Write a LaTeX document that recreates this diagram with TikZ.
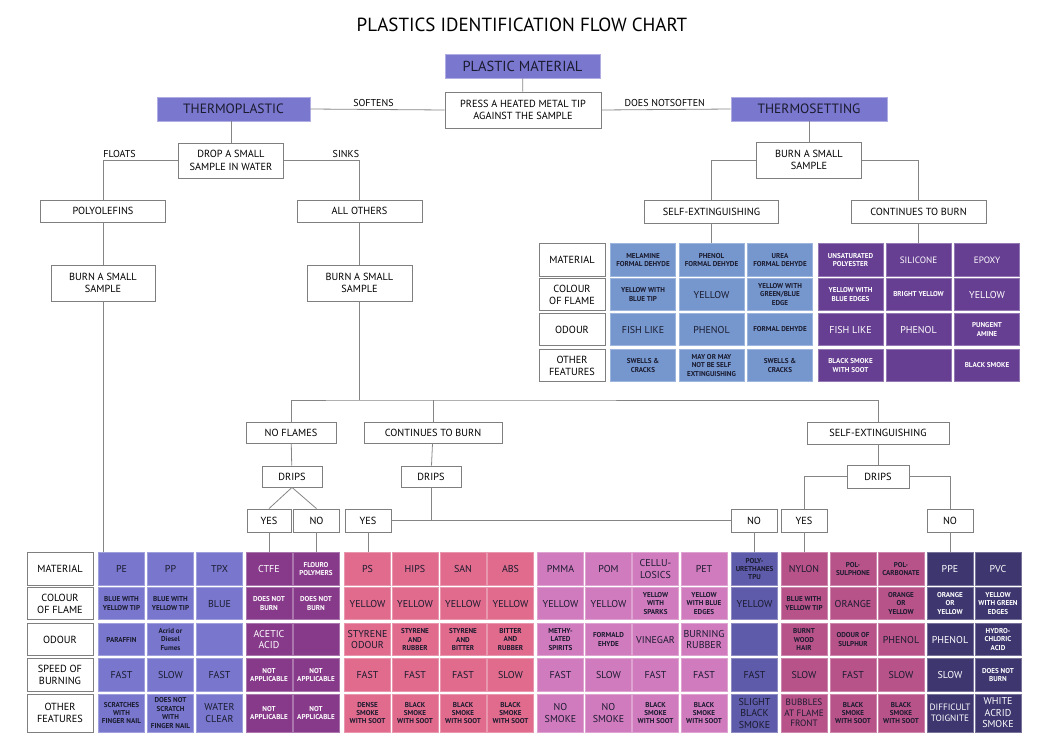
\documentclass[tikz,border=0pt]{standalone}
\usepackage{fontspec}
\setmainfont{PT Sans}
\usetikzlibrary{positioning}
\definecolor{headpurple}{HTML}{7A77CE}
\definecolor{tsblue}{HTML}{7597CE}
\definecolor{tspurple}{HTML}{663E92}
\definecolor{pecol}{HTML}{7877CD}
\definecolor{ctfecol}{HTML}{873A8A}
\definecolor{pscol}{HTML}{E06B8D}
\definecolor{pmmacol}{HTML}{D17BBF}
\definecolor{pucol}{HTML}{5E5BAA}
\definecolor{nycol}{HTML}{B85389}
\definecolor{ppecol}{HTML}{3D366F}
\definecolor{darktext}{HTML}{1B1B2F}
\definecolor{boxgray}{HTML}{7F7F7F}
\definecolor{linegray}{HTML}{858585}
\tikzset{conn/.style={draw=linegray, line width=0.8pt},
         flowbox/.style={draw=boxgray, fill=white, line width=0.8pt, align=center, inner sep=1pt, font=\fontsize{10.3}{12.5}\selectfont},
         headbox/.style={fill=headpurple, draw=headpurple!60!white, line width=0.8pt, text=darktext, font=\fontsize{13.5}{15}\selectfont},
         lbl/.style={above, inner sep=2pt, font=\fontsize{10}{11}\selectfont}}
\tikzset{rowhead/.style={draw=boxgray, fill=white, line width=0.8pt, align=center, minimum width=66pt, minimum height=32.5pt, inner sep=0pt, font=\fontsize{10.3}{12}\selectfont},
         cell/.style={fill=#1, draw=#1!70!white, line width=0.6pt, align=center, minimum width=46pt, minimum height=32.5pt, inner sep=0pt, text=darktext, font=\fontsize{10}{11.5}\selectfont},
         tcell/.style={cell=#1, minimum width=65pt},
         sml/.style={font=\bfseries\fontsize{7.1}{8.4}\selectfont},
         midf/.style={font=\fontsize{9.2}{10.5}\selectfont},
         wt/.style={text=white},
         tall/.style={minimum height=38pt}}

\begin{document}
\begin{tikzpicture}[x=1pt,y=-1pt]
   \useasboundingbox (0,0) rectangle (1048,752);
   \node (title) at (522,25) {\fontsize{19}{21}\selectfont PLASTICS IDENTIFICATION FLOW CHART};

   \node[headbox,minimum width=155pt,minimum height=24pt,font=\fontsize{14.5}{16}\selectfont] (pmat) at (522.5,66) {PLASTIC MATERIAL};
   \node[flowbox,minimum width=156pt,minimum height=36pt] (press)  at (523,110)   {PRESS A HEATED METAL TIP\\AGAINST THE SAMPLE};
   \node[headbox,minimum width=153pt,minimum height=24pt] (tplast) at (233.5,109) {THERMOPLASTIC};
   \node[headbox,minimum width=156pt,minimum height=24pt] (tset)   at (809,109)   {THERMOSETTING};
   \draw[conn] (pmat) -- (press);
   \draw[conn] (tplast.east) -- node[lbl,pos=0.47] {SOFTENS} (press.west);
   \draw[conn] (press.east) -- node[lbl,pos=0.49] {DOES NOTSOFTEN} (tset.west);

   % thermoplastic side
   \node[flowbox,minimum width=105pt,minimum height=35pt] (drop)   at (231,160.5) {DROP A SMALL\\SAMPLE IN WATER};
   \node[flowbox,minimum width=125pt,minimum height=22pt] (poly)   at (103,211)   {POLYOLEFINS};
   \node[flowbox,minimum width=125pt,minimum height=22pt] (others) at (359.5,211) {ALL OTHERS};
   \node[flowbox,minimum width=104pt,minimum height=36pt] (burnL)  at (103,283)   {BURN A SMALL\\SAMPLE};
   \node[flowbox,minimum width=105pt,minimum height=36pt] (burnM)  at (359.5,283) {BURN A SMALL\\SAMPLE};
   \draw[conn] (tplast.south -| drop.north) -- (drop.north);
   \draw[conn] (drop.west) -| node[lbl,pos=0.39] {FLOATS} (poly.north);
   \draw[conn] (drop.east) -| node[lbl,pos=0.41] {SINKS} (others.north);
   \draw[conn] (poly) -- (burnL);
   \draw[conn] (others) -- (burnM);

   % thermosetting side
   \node[flowbox,minimum width=105pt,minimum height=36pt] (burnT) at (809,160)   {BURN A SMALL\\SAMPLE};
   \node[flowbox,minimum width=134pt,minimum height=23pt] (selfT) at (711.5,211.5) {SELF-EXTINGUISHING};
   \node[flowbox,minimum width=135pt,minimum height=23pt] (contT) at (918.5,211.5) {CONTINUES TO BURN};
   \draw[conn] (tset) -- (burnT);
   \draw[conn] (burnT.west) -| (selfT.north);
   \draw[conn] (burnT.east) -| (contT.north);

   \node[rowhead] (th1) at (572,260)   {MATERIAL};
   \node[rowhead] (th2) at (572,294.5) {COLOUR\\OF FLAME};
   \node[rowhead] (th3) at (572,329.5) {ODOUR};
   \node[rowhead] (th4) at (572,365.5) {OTHER\\FEATURES};

   \node[tcell=tsblue,sml]      (mf1) at (643,260)   {MELAMINE\\FORMAL DEHYDE};
   \node[tcell=tsblue,sml]      (mf2) at (643,294.5) {YELLOW WITH\\BLUE TIP};
   \node[tcell=tsblue]          (mf3) at (643,329.5) {FISH LIKE};
   \node[tcell=tsblue,sml]      (mf4) at (643,365.5) {SWELLS \&\\CRACKS};
   \node[tcell=tsblue,sml]      (pf1) at (711.5,260)   {PHENOL\\FORMAL DEHYDE};
   \node[tcell=tsblue]          (pf2) at (711.5,294.5) {YELLOW};
   \node[tcell=tsblue]          (pf3) at (711.5,329.5) {PHENOL};
   \node[tcell=tsblue,sml]      (pf4) at (711.5,365.5) {MAY OR MAY\\NOT BE SELF\\EXTINGUISHING};
   \node[tcell=tsblue,sml]      (uf1) at (780,260)   {UREA\\FORMAL DEHYDE};
   \node[tcell=tsblue,sml]      (uf2) at (780,294.5) {YELLOW WITH\\GREEN/BLUE\\EDGE};
   \node[tcell=tsblue,sml]      (uf3) at (780,329.5) {FORMAL DEHYDE};
   \node[tcell=tsblue,sml]      (uf4) at (780,365.5) {SWELLS \&\\CRACKS};
   \node[tcell=tspurple,sml,wt] (up1) at (850.5,260)   {UNSATURATED\\POLYESTER};
   \node[tcell=tspurple,sml,wt] (up2) at (850.5,294.5) {YELLOW WITH\\BLUE EDGES};
   \node[tcell=tspurple,wt]     (up3) at (850.5,329.5) {FISH LIKE};
   \node[tcell=tspurple,sml,wt] (up4) at (850.5,365.5) {BLACK SMOKE\\WITH SOOT};
   \node[tcell=tspurple,midf,wt] (si1) at (918.5,260)   {SILICONE};
   \node[tcell=tspurple,sml,wt] (si2) at (918.5,294.5) {BRIGHT YELLOW};
   \node[tcell=tspurple,wt]     (si3) at (918.5,329.5) {PHENOL};
   \node[tcell=tspurple]        (si4) at (918.5,365.5) {};
   \node[tcell=tspurple,midf,wt] (ep1) at (987,260)   {EPOXY};
   \node[tcell=tspurple,wt]     (ep2) at (987,294.5) {YELLOW};
   \node[tcell=tspurple,sml,wt] (ep3) at (987,329.5) {PUNGENT\\AMINE};
   \node[tcell=tspurple,sml,wt] (ep4) at (987,365.5) {BLACK SMOKE};
   \draw[conn] (selfT.south) -- (selfT.south |- pf1.north);
   \draw[conn] (contT.south) -- (contT.south |- si1.north);

   % burning tests for the other thermoplastics
   \coordinate (split) at (359.5,400);
   \node[flowbox,minimum width=90pt,minimum height=21pt]  (nofl)   at (291,432.5) {NO FLAMES};
   \node[flowbox,minimum width=138pt,minimum height=21pt] (contM)  at (433,432.5) {CONTINUES TO BURN};
   \node[flowbox,minimum width=142pt,minimum height=22pt] (selfM)  at (878,433)   {SELF-EXTINGUISHING};
   \node[flowbox,minimum width=60pt,minimum height=21pt]  (drips1) at (292,476.5) {DRIPS};
   \node[flowbox,minimum width=60pt,minimum height=21pt]  (drips2) at (431,476.5) {DRIPS};
   \node[flowbox,minimum width=62pt,minimum height=23pt]  (drips3) at (878,476.5) {DRIPS};
   \node[flowbox,minimum width=44pt,minimum height=23pt]  (yes1)   at (269,520.5) {YES};
   \node[flowbox,minimum width=46pt,minimum height=23pt]  (no1)    at (316.5,520.5) {NO};
   \node[flowbox,minimum width=46pt,minimum height=23pt]  (yes2)   at (368,520.5) {YES};
   \node[flowbox,minimum width=46pt,minimum height=23pt]  (no2)    at (754,520.5) {NO};
   \node[flowbox,minimum width=46pt,minimum height=23pt]  (yes3)   at (804,520.5) {YES};
   \node[flowbox,minimum width=46pt,minimum height=23pt]  (no3)    at (950,520.5) {NO};
   \draw[conn] (burnM.south) -- (split);
   \draw[conn] (nofl.north) |- (split) -| (selfM.north);
   \draw[conn] (contM.north) -- (contM.north |- split);
   \draw[conn] (nofl) -- (drips1);
   \draw[conn] (drips1.south) -- (yes1.north);
   \draw[conn] (drips1.south) -- (no1.north);
   \draw[conn] (contM) -- (drips2);
   \draw[conn] (drips2.south) -- (drips2.south |- yes2.east);
   \draw[conn] (yes2) -- (no2);
   \draw[conn] (selfM) -- (drips3);
   \draw[conn] (drips3.west) -| (yes3.north);
   \draw[conn] (drips3.east) -| (no3.north);

   % thermoplastic table
   \node[rowhead]      (h1) at (60,569)   {MATERIAL};
   \node[rowhead]      (h2) at (60,603.5) {COLOUR\\OF FLAME};
   \node[rowhead]      (h3) at (60,639.5) {ODOUR};
   \node[rowhead]      (h4) at (60,675)   {SPEED OF\\BURNING};
   \node[rowhead,tall] (h5) at (60,713)   {OTHER\\FEATURES};

   \node[cell=pecol]          (pe1) at (121.5,569)   {PE};
   \node[cell=pecol,sml]      (pe2) at (121.5,603.5) {BLUE WITH\\YELLOW TIP};
   \node[cell=pecol,sml]      (pe3) at (121.5,639.5) {PARAFFIN};
   \node[cell=pecol]          (pe4) at (121.5,675)   {FAST};
   \node[cell=pecol,sml,tall] (pe5) at (121.5,713)   {SCRATCHES\\WITH\\FINGER NAIL};
   \node[cell=pecol]          (pp1) at (170.5,569)   {PP};
   \node[cell=pecol,sml]      (pp2) at (170.5,603.5) {BLUE WITH\\YELLOW TIP};
   \node[cell=pecol,sml]      (pp3) at (170.5,639.5) {Acrid or\\Diesel\\Fumes};
   \node[cell=pecol]          (pp4) at (170.5,675)   {SLOW};
   \node[cell=pecol,sml,tall] (pp5) at (170.5,713)   {DOES NOT\\SCRATCH\\WITH\\FINGER NAIL};
   \node[cell=pecol]          (tpx1) at (219.5,569)   {TPX};
   \node[cell=pecol]          (tpx2) at (219.5,603.5) {BLUE};
   \node[cell=pecol]          (tpx3) at (219.5,639.5) {};
   \node[cell=pecol]          (tpx4) at (219.5,675)   {FAST};
   \node[cell=pecol,tall]     (tpx5) at (219.5,713)   {WATER\\CLEAR};

   \node[cell=ctfecol,wt]          (ctfe1) at (269,569)   {CTFE};
   \node[cell=ctfecol,sml,wt]      (ctfe2) at (269,603.5) {DOES NOT\\BURN};
   \node[cell=ctfecol,wt]          (ctfe3) at (269,639.5) {ACETIC\\ACID};
   \node[cell=ctfecol,sml,wt]      (ctfe4) at (269,675)   {NOT\\APPLICABLE};
   \node[cell=ctfecol,sml,wt,tall] (ctfe5) at (269,713)   {NOT\\APPLICABLE};
   \node[cell=ctfecol,sml,wt]      (fp1) at (316,569)   {FLOURO\\POLYMERS};
   \node[cell=ctfecol,sml,wt]      (fp2) at (316,603.5) {DOES NOT\\BURN};
   \node[cell=ctfecol]             (fp3) at (316,639.5) {};
   \node[cell=ctfecol,sml,wt]      (fp4) at (316,675)   {NOT\\APPLICABLE};
   \node[cell=ctfecol,sml,wt,tall] (fp5) at (316,713)   {NOT\\APPLICABLE};

   \node[cell=pscol]          (ps1) at (367.5,569)   {PS};
   \node[cell=pscol]          (ps2) at (367.5,603.5) {YELLOW};
   \node[cell=pscol]          (ps3) at (367.5,639.5) {STYRENE\\ODOUR};
   \node[cell=pscol]          (ps4) at (367.5,675)   {FAST};
   \node[cell=pscol,sml,tall] (ps5) at (367.5,713)   {DENSE\\SMOKE\\WITH SOOT};
   \node[cell=pscol]          (hips1) at (415,569)   {HIPS};
   \node[cell=pscol]          (hips2) at (415,603.5) {YELLOW};
   \node[cell=pscol,sml]      (hips3) at (415,639.5) {STYRENE\\AND\\RUBBER};
   \node[cell=pscol]          (hips4) at (415,675)   {FAST};
   \node[cell=pscol,sml,tall] (hips5) at (415,713)   {BLACK\\SMOKE\\WITH SOOT};
   \node[cell=pscol]          (san1) at (463,569)   {SAN};
   \node[cell=pscol]          (san2) at (463,603.5) {YELLOW};
   \node[cell=pscol,sml]      (san3) at (463,639.5) {STYRENE\\AND\\BITTER};
   \node[cell=pscol]          (san4) at (463,675)   {FAST};
   \node[cell=pscol,sml,tall] (san5) at (463,713)   {BLACK\\SMOKE\\WITH SOOT};
   \node[cell=pscol]          (abs1) at (510.5,569)   {ABS};
   \node[cell=pscol]          (abs2) at (510.5,603.5) {YELLOW};
   \node[cell=pscol,sml]      (abs3) at (510.5,639.5) {BITTER\\AND\\RUBBER};
   \node[cell=pscol]          (abs4) at (510.5,675)   {SLOW};
   \node[cell=pscol,sml,tall] (abs5) at (510.5,713)   {BLACK\\SMOKE\\WITH SOOT};

   \node[cell=pmmacol]          (pmma1) at (560.5,569)   {PMMA};
   \node[cell=pmmacol]          (pmma2) at (560.5,603.5) {YELLOW};
   \node[cell=pmmacol,sml]      (pmma3) at (560.5,639.5) {METHY-\\LATED\\SPIRITS};
   \node[cell=pmmacol]          (pmma4) at (560.5,675)   {FAST};
   \node[cell=pmmacol,tall]     (pmma5) at (560.5,713)   {NO\\SMOKE};
   \node[cell=pmmacol]          (pom1) at (608.5,569)   {POM};
   \node[cell=pmmacol]          (pom2) at (608.5,603.5) {YELLOW};
   \node[cell=pmmacol,sml]      (pom3) at (608.5,639.5) {FORMALD\\EHYDE};
   \node[cell=pmmacol]          (pom4) at (608.5,675)   {SLOW};
   \node[cell=pmmacol,tall]     (pom5) at (608.5,713)   {NO\\SMOKE};
   \node[cell=pmmacol]          (cel1) at (655.5,569)   {CELLU-\\LOSICS};
   \node[cell=pmmacol,sml]      (cel2) at (655.5,603.5) {YELLOW\\WITH\\SPARKS};
   \node[cell=pmmacol]          (cel3) at (655.5,639.5) {VINEGAR};
   \node[cell=pmmacol]          (cel4) at (655.5,675)   {FAST};
   \node[cell=pmmacol,sml,tall] (cel5) at (655.5,713)   {BLACK\\SMOKE\\WITH SOOT};
   \node[cell=pmmacol]          (pet1) at (704,569)   {PET};
   \node[cell=pmmacol,sml]      (pet2) at (704,603.5) {YELLOW\\WITH BLUE\\EDGES};
   \node[cell=pmmacol]          (pet3) at (704,639.5) {BURNING\\RUBBER};
   \node[cell=pmmacol]          (pet4) at (704,675)   {FAST};
   \node[cell=pmmacol,sml,tall] (pet5) at (704,713)   {BLACK\\SMOKE\\WITH SOOT};

   \node[cell=pucol,sml]  (pu1) at (754.5,569)   {POLY-\\URETHANES\\TPU};
   \node[cell=pucol]      (pu2) at (754.5,603.5) {YELLOW};
   \node[cell=pucol]      (pu3) at (754.5,639.5) {};
   \node[cell=pucol]      (pu4) at (754.5,675)   {FAST};
   \node[cell=pucol,tall] (pu5) at (754.5,713)   {SLIGHT\\BLACK\\SMOKE};

   \node[cell=nycol]          (ny1) at (804,569)   {NYLON};
   \node[cell=nycol,sml]      (ny2) at (804,603.5) {BLUE WITH\\YELLOW TIP};
   \node[cell=nycol,sml]      (ny3) at (804,639.5) {BURNT\\WOOD\\HAIR};
   \node[cell=nycol]          (ny4) at (804,675)   {SLOW};
   \node[cell=nycol,midf,tall] (ny5) at (804,713)  {BUBBLES\\AT FLAME\\FRONT};
   \node[cell=nycol,sml]      (psu1) at (853,569)   {POL-\\SULPHONE};
   \node[cell=nycol]          (psu2) at (853,603.5) {ORANGE};
   \node[cell=nycol,sml]      (psu3) at (853,639.5) {ODOUR OF\\SULPHUR};
   \node[cell=nycol]          (psu4) at (853,675)   {FAST};
   \node[cell=nycol,sml,tall] (psu5) at (853,713)   {BLACK\\SMOKE\\WITH SOOT};
   \node[cell=nycol,sml]      (pc1) at (901,569)   {POL-\\CARBONATE};
   \node[cell=nycol,sml]      (pc2) at (901,603.5) {ORANGE\\OR\\YELLOW};
   \node[cell=nycol]          (pc3) at (901,639.5) {PHENOL};
   \node[cell=nycol]          (pc4) at (901,675)   {SLOW};
   \node[cell=nycol,sml,tall] (pc5) at (901,713)   {BLACK\\SMOKE\\WITH SOOT};

   \node[cell=ppecol,wt]           (ppe1) at (950,569)   {PPE};
   \node[cell=ppecol,sml,wt]       (ppe2) at (950,603.5) {ORANGE\\OR\\YELLOW};
   \node[cell=ppecol,wt]           (ppe3) at (950,639.5) {PHENOL};
   \node[cell=ppecol,wt]           (ppe4) at (950,675)   {SLOW};
   \node[cell=ppecol,midf,wt,tall] (ppe5) at (950,713)   {DIFFICULT\\TOIGNITE};
   \node[cell=ppecol,wt]           (pvc1) at (998,569)   {PVC};
   \node[cell=ppecol,sml,wt]       (pvc2) at (998,603.5) {YELLOW\\WITH GREEN\\EDGES};
   \node[cell=ppecol,sml,wt]       (pvc3) at (998,639.5) {HYDRO-\\CHLORIC\\ACID};
   \node[cell=ppecol,sml,wt]       (pvc4) at (998,675)   {DOES NOT\\BURN};
   \node[cell=ppecol,wt,tall]      (pvc5) at (998,713)   {WHITE\\ACRID\\SMOKE};

   \draw[conn] (burnL.south) -- (burnL.south |- pe1.north);
   \draw[conn] (yes1.south) -- (yes1.south |- ctfe1.north);
   \draw[conn] (no1.south) -- (no1.south |- fp1.north);
   \draw[conn] (yes2.south) -- (yes2.south |- ps1.north);
   \draw[conn] (no2.south) -- (no2.south |- pu1.north);
   \draw[conn] (yes3.south) -- (yes3.south |- ny1.north);
   \draw[conn] (no3.south) -- (no3.south |- ppe1.north);
\end{tikzpicture}
\end{document}
